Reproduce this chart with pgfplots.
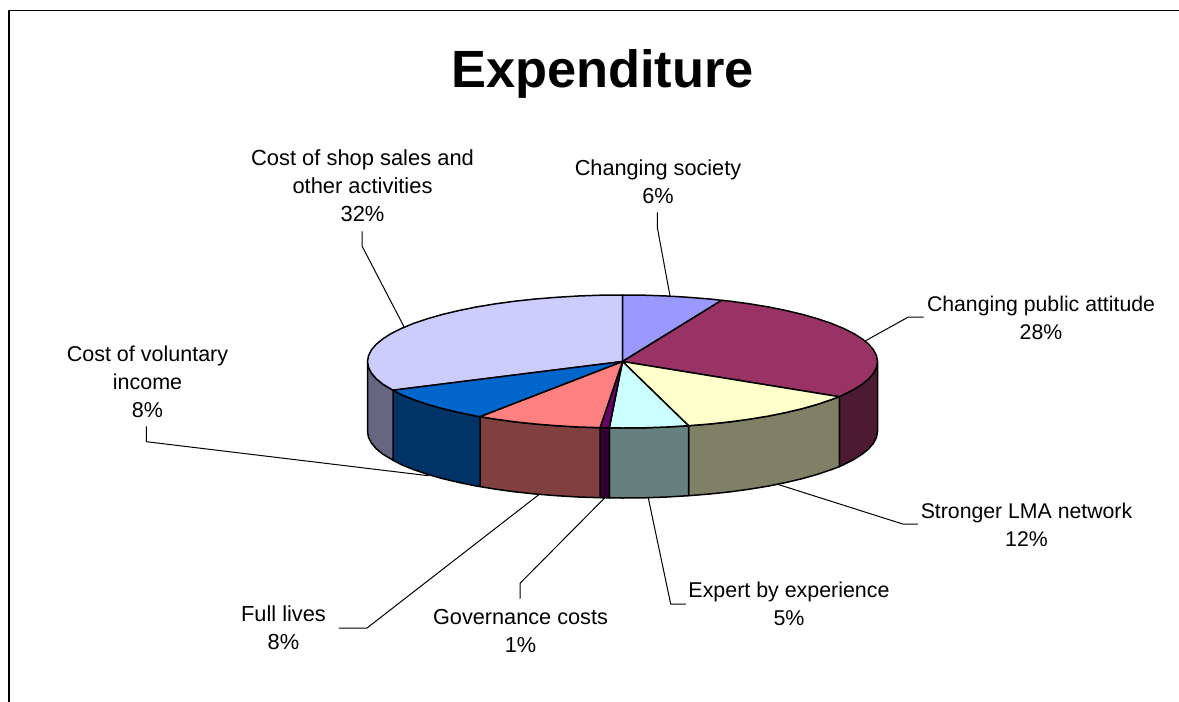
\documentclass[border=0pt]{standalone}
\usepackage{fontspec}
\setmainfont{Liberation Sans}
\usepackage{pgfplots}
\pgfplotsset{compat=1.18}
\definecolor{cShop}{HTML}{CCCCFF}\definecolor{cShopS}{HTML}{666680}
\definecolor{cSoc}{HTML}{9999FF}
\definecolor{cPub}{HTML}{993366}\definecolor{cPubS}{HTML}{4D1A33}
\definecolor{cLMA}{HTML}{FFFFCC}\definecolor{cLMAS}{HTML}{808066}
\definecolor{cExp}{HTML}{CCFFFF}\definecolor{cExpS}{HTML}{668080}
\definecolor{cGov}{HTML}{660066}\definecolor{cGovS}{HTML}{330033}
\definecolor{cFull}{HTML}{FF8080}\definecolor{cFullS}{HTML}{804040}
\definecolor{cVol}{HTML}{0066CC}\definecolor{cVolS}{HTML}{003366}
\tikzset{
  slice/.style={draw=black, line width=1.5pt, fill=#1},
  leader/.style={draw=black, line width=1pt},
  lab/.style={font=\fontsize{#1}{28}\selectfont, align=center, text=black, inner sep=0pt, anchor=center},
}
\begin{document}
\begin{tikzpicture}
\begin{axis}[
  scale only axis, width=1179pt, height=702pt,
  xmin=0, xmax=1179, ymin=0, ymax=702, y dir=reverse,
  hide axis, clip=true,
  every axis plot/.append style={no markers, line join=round, line cap=round},
]
% page background and chart frame
\addplot[fill=white, draw=none] coordinates {(0,0)(1179,0)(1179,702)(0,702)(0,0)};
\addplot[draw=black, line width=1.2pt] coordinates {(9,702)(9,10.5)(1179,10.5)};
% leader lines
\addplot[leader] coordinates {(404,326.7)(362,246)(362,231.7)};
\addplot[leader] coordinates {(670,296)(657.3,227.3)(657.3,212.7)};
\addplot[leader] coordinates {(865.7,340.7)(908.3,317)(923.3,317)};
\addplot[leader] coordinates {(776.7,484)(902.7,524)(917.7,524)};
\addplot[leader] coordinates {(648.3,498)(670.7,604)(685.7,604)};
\addplot[leader] coordinates {(604.3,498.3)(520,583.3)(520,598.3)};
\addplot[leader] coordinates {(539.3,494.3)(367,628)(339,628)};
\addplot[leader] coordinates {(428.3,475.7)(146.3,441.7)(146.3,426.7)};
% side walls
\addplot[slice=cPubS] coordinates {(877.5,361.5)(876.5,367.3)(873.6,373.0)(868.8,378.7)(862.1,384.2)(853.6,389.6)(843.3,394.8)(839.3,396.7)(839.3,466.7)(843.3,464.8)(853.6,459.6)(862.1,454.2)(868.8,448.7)(873.6,443.0)(876.5,437.3)(877.5,431.5)(877.5,361.5)};
\addplot[slice=cLMAS] coordinates {(839.3,396.7)(831.4,399.6)(817.8,404.2)(802.8,408.5)(786.4,412.4)(768.8,416.0)(750,419.1)(730.3,421.8)(709.7,424.0)(688.5,425.7)(688.5,495.7)(709.7,494.0)(730.3,491.8)(750,489.1)(768.8,486.0)(786.4,482.4)(802.8,478.5)(817.8,474.2)(831.4,469.6)(839.3,466.7)(839.3,396.7)};
\addplot[slice=cExpS] coordinates {(688.5,425.7)(666.8,427.0)(644.7,427.8)(622.5,428)(609.3,427.9)(609.3,497.9)(622.5,498)(644.7,497.8)(666.8,497.0)(688.5,495.7)(688.5,425.7)};
\addplot[slice=cGovS] coordinates {(609.3,427.9)(600,427.7)(600,497.7)(609.3,497.9)(609.3,427.9)};
\addplot[slice=cFullS] coordinates {(600,427.7)(578.2,427.0)(556.5,425.7)(535.3,424.0)(514.7,421.8)(495,419.1)(480,416.6)(480,486.6)(495,489.1)(514.7,491.8)(535.3,494.0)(556.5,495.7)(578.2,497.0)(600,497.7)(600,427.7)};
\addplot[slice=cVolS] coordinates {(480,416.6)(476.2,416.0)(458.6,412.4)(442.2,408.5)(427.2,404.2)(413.6,399.6)(401.7,394.8)(393,390.2)(393,460.2)(401.7,464.8)(413.6,469.6)(427.2,474.2)(442.2,478.5)(458.6,482.4)(476.2,486.0)(480,486.6)(480,416.6)};
\addplot[slice=cShopS] coordinates {(393,390.2)(382.9,384.2)(376.2,378.7)(371.4,373.0)(368.5,367.3)(367.5,361.5)(367.5,431.5)(368.5,437.3)(371.4,443.0)(376.2,448.7)(382.9,454.2)(393,460.2)(393,390.2)};
% top faces
\addplot[slice=cShop] coordinates {(622.5,361.5)(393,390.2)(382.9,384.2)(376.2,378.7)(371.4,373.0)(368.5,367.3)(367.5,361.5)(368.5,355.7)(371.4,350.0)(376.2,344.3)(382.9,338.8)(391.4,333.4)(401.7,328.3)(413.6,323.4)(427.2,318.8)(442.2,314.5)(458.6,310.6)(476.2,307.0)(495,303.9)(514.7,301.2)(535.3,299.0)(556.5,297.3)(578.2,296.0)(600.3,295.2)(622.5,295)(622.5,361.5)};
\addplot[slice=cSoc] coordinates {(622.5,361.5)(622.5,295)(644.7,295.2)(666.8,296.0)(688.5,297.3)(709.7,299.0)(721.7,300.3)(622.5,361.5)};
\addplot[slice=cPub] coordinates {(622.5,361.5)(721.7,300.3)(730.3,301.2)(750,303.9)(768.8,307.0)(786.4,310.6)(802.8,314.5)(817.8,318.8)(831.4,323.4)(843.3,328.3)(853.6,333.4)(862.1,338.8)(868.8,344.3)(873.6,350.0)(876.5,355.7)(877.5,361.5)(876.5,367.3)(873.6,373.0)(868.8,378.7)(862.1,384.2)(853.6,389.6)(843.3,394.8)(839.3,396.7)(622.5,361.5)};
\addplot[slice=cLMA] coordinates {(622.5,361.5)(839.3,396.7)(831.4,399.6)(817.8,404.2)(802.8,408.5)(786.4,412.4)(768.8,416.0)(750,419.1)(730.3,421.8)(709.7,424.0)(688.5,425.7)(622.5,361.5)};
\addplot[slice=cExp] coordinates {(622.5,361.5)(688.5,425.7)(666.8,427.0)(644.7,427.8)(622.5,428)(609.3,427.9)(622.5,361.5)};
\addplot[slice=cGov] coordinates {(622.5,361.5)(609.3,427.9)(600,427.7)(622.5,361.5)};
\addplot[slice=cFull] coordinates {(622.5,361.5)(600,427.7)(578.2,427.0)(556.5,425.7)(535.3,424.0)(514.7,421.8)(495,419.1)(480,416.6)(622.5,361.5)};
\addplot[slice=cVol] coordinates {(622.5,361.5)(480,416.6)(476.2,416.0)(458.6,412.4)(442.2,408.5)(427.2,404.2)(413.6,399.6)(401.7,394.8)(393,390.2)(622.5,361.5)};
% texts
\node[font=\fontsize{52.4}{60}\selectfont\bfseries, inner sep=0pt, anchor=center] at (axis cs:602.5,74) {Expenditure};
\node[lab=21.9] at (axis cs:362.5,186) {Cost of shop sales and\\other activities\\32\%};
\node[lab=21.7] at (axis cs:658,182) {Changing society\\6\%};
\node[lab=21.25] at (axis cs:1041,318) {Changing public attitude\\28\%};
\node[lab=21.25] at (axis cs:1026.5,525) {Stronger LMA network\\12\%};
\node[lab=21.4] at (axis cs:789,604) {Expert by experience\\5\%};
\node[lab=21.7] at (axis cs:520.5,631) {Governance costs\\1\%};
\node[lab=21.8] at (axis cs:283.5,628) {Full lives\\8\%};
\node[lab=21.5] at (axis cs:147.5,382) {Cost of voluntary\\income\\8\%};
\end{axis}
\end{tikzpicture}
\end{document}
